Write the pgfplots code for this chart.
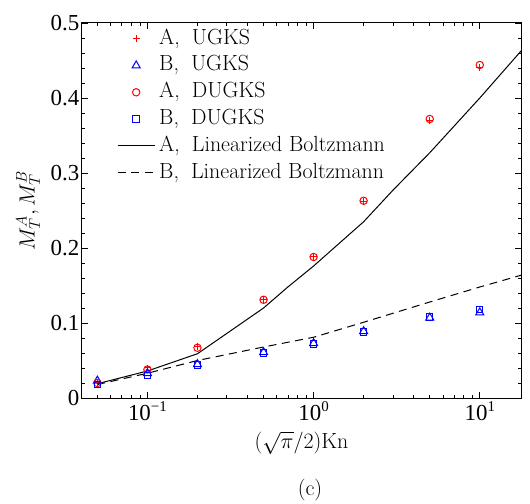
\RequirePackage{fix-cm}
\documentclass[border=0pt]{standalone}
\usepackage{fontspec}
\newfontfamily\tickfont{Liberation Serif}
\usepackage{pgfplots}
\pgfplotsset{compat=1.18}

\newcommand\bigfont{\fontsize{22}{26}\selectfont}
\newcommand\tickbig{\tickfont\fontsize{23}{27}\selectfont}
\newcommand\ex[1]{10\raisebox{9bp}{\fontsize{15}{15}\selectfont#1}}

\begin{document}
\begin{tikzpicture}
\begin{axis}[
  name=ax,
  xmode=log,
  scale only axis,
  width=439bp, height=375bp,
  xmin=0.0404, xmax=17.7,
  ymin=0, ymax=0.5,
  xtick={0.1,1,10},
  xticklabels={\ex{−1},\ex{0},\ex{1}},
  minor xtick={0.05,0.06,0.07,0.08,0.09,0.2,0.3,0.4,0.5,0.6,0.7,0.8,0.9,2,3,4,5,6,7,8,9},
  ytick={0,0.1,0.2,0.3,0.4,0.5},
  yticklabels={0,0.1,0.2,0.3,0.4,0.5},
  minor ytick={0.02,0.04,0.06,0.08,0.12,0.14,0.16,0.18,0.22,0.24,0.26,0.28,0.32,0.34,0.36,0.38,0.42,0.44,0.46,0.48},
  tick align=inside,
  major tick length=6bp, minor tick length=3bp,
  tick style={black, line width=0.6bp},
  axis line style={line width=1bp},
  tick label style={font=\tickbig},
  yticklabel style={inner xsep=2.5bp},
  label style={font=\bigfont},
  xlabel={$(\sqrt{\pi}/2)$Kn},
  ylabel={$M_T^A, M_T^B$},
  xlabel style={at={(axis description cs:0.5,-0.12)}, anchor=center},
  ylabel style={at={(axis description cs:-0.123,0.5)}, anchor=center},
  legend style={draw=none, fill=none, at={(axis description cs:0,1)}, anchor=north west,
    xshift=32bp, yshift=-2bp,
    font=\bigfont, row sep=3.8bp, column sep=3bp,
    nodes={inner sep=1bp, text height=16bp, text depth=5bp}},
  legend cell align=left,
  legend image code/.code={\draw[mark repeat=2,mark phase=2,#1] plot coordinates {(0bp,0bp) (18.5bp,0bp) (37bp,0bp)};},
]
\addplot[only marks, red, mark=+, mark size=3.4bp, mark options={line width=1bp}] coordinates {
  (0.05,0.021) (0.1,0.040) (0.2,0.069) (0.5,0.131) (1,0.188) (2,0.262) (5,0.370) (10,0.441)};
\addlegendentry{A,\hspace{0.55em}UGKS}
\addplot[only marks, blue, mark=triangle, mark size=4.6bp, mark options={line width=1bp}] coordinates {
  (0.05,0.023) (0.1,0.033) (0.2,0.045) (0.5,0.061) (1,0.073) (2,0.089) (5,0.107) (10,0.114)};
\addlegendentry{B,\hspace{0.55em}UGKS}
\addplot[only marks, red, mark=o, mark size=3.7bp, mark options={line width=1bp}] coordinates {
  (0.05,0.020) (0.1,0.038) (0.2,0.067) (0.5,0.131) (1,0.188) (2,0.263) (5,0.372) (10,0.444)};
\addlegendentry{A,\hspace{0.55em}DUGKS}
\addplot[only marks, blue, mark=square, mark size=3.2bp, mark options={line width=1bp}] coordinates {
  (0.05,0.018) (0.1,0.030) (0.2,0.044) (0.5,0.060) (1,0.072) (2,0.088) (5,0.108) (10,0.118)};
\addlegendentry{B,\hspace{0.55em}DUGKS}
\addplot[black, line width=1bp, no marks] coordinates {
  (0.05,0.019) (0.1,0.036) (0.2,0.059) (0.3,0.086) (0.5,0.120) (0.7,0.148) (1,0.176)
  (2,0.235) (3,0.277) (5,0.327) (10,0.400) (20,0.476)};
\addlegendentry{A,\hspace{0.55em}Linearized Boltzmann}
\addplot[black, line width=1bp, no marks, dash pattern=on 8bp off 5.5bp] coordinates {
  (0.05,0.018) (0.1,0.033) (0.2,0.050) (0.5,0.068) (1,0.081) (2,0.101) (5,0.128) (10,0.148) (20,0.167)};
\addlegendentry{B,\hspace{0.55em}Linearized Boltzmann}
\end{axis}
\node[font=\bigfont] at ([xshift=228bp,yshift=-92bp]ax.south west) {(c)};
\pgfresetboundingbox
\path ([xshift=-82bp,yshift=-106bp]ax.south west) rectangle ([xshift=448bp,yshift=398bp]ax.south west);
\end{tikzpicture}
\end{document}
